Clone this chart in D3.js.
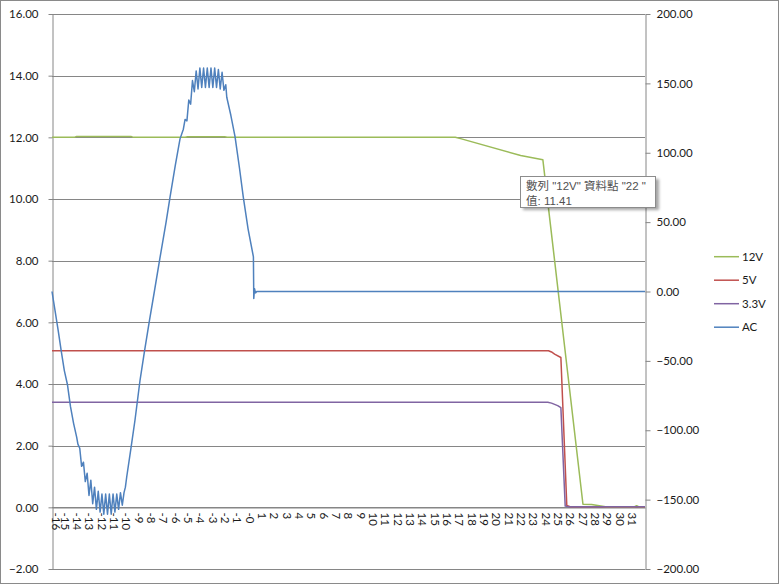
<!DOCTYPE html>
<html><head><meta charset="utf-8">
<script src="https://cdn.jsdelivr.net/npm/d3@7"></script>
<style>
body{margin:0;background:#fff}
svg text{font-family:Lato,"Liberation Sans",sans-serif;fill:#1a1a1a}
</style>
</head><body>
<svg id="c" width="780" height="585"></svg>
<script>
// ---- data ----
const xTicks = [-16,-15,-14,-13,-12,-11,-10,-9,-8,-7,-6,-5,-4,-3,-2,-1,-0,1,2,3,4,5,6,7,8,9,10,11,12,13,14,15,16,17,18,19,20,21,22,23,24,25,26,27,28,29,30,31];
const xTickLabels = ["-16","-15","-14","-13","-12","-11","-10","-9","-8","-7","-6","-5","-4","-3","-2","-1","-0","1","2","3","4","5","6","7","8","9","10","11","12","13","14","15","16","17","18","19","20","21","22","23","24","25","26","27","28","29","30","31"];
const leftTicks = [-2,0,2,4,6,8,10,12,14,16];
const rightTicks = [-200,-150,-100,-50,0,50,100,150,200];
const seriesNames = ["12V","5V","3.3V","AC"];
const seriesColors = ["#9BBB59","#C0504D","#8064A2","#4F81BD"];

const v12T = [-16,-14.2,-14.0,-9.6,-9.4,-5.2,-5.0,-2.0,-1.8,16.7,17.2,22,23.8,27.05,27.75,29.0,31.2,31.4,31.6,32.08];
const v12V = [12.0,12.0,12.03,12.03,12.0,12.0,12.02,12.02,12.0,12.0,11.95,11.41,11.27,0.1,0.09,0.01,0.01,0.05,0.01,0.01];

const v5T = [-16,24.25,24.5,24.75,25.26,25.74,26.0,32.08];
const v5V = [5.08,5.08,5.04,4.97,4.86,0.06,0.02,0.02];

const v33T = [-16,24.2,24.5,25.0,25.26,25.61,25.9,32.08];
const v33V = [3.41,3.41,3.38,3.3,3.23,0.04,0.02,0.02];

const acT = [-16,-15.75,-15.5,-15.25,-15,-14.75,-14.5,-14.25,-14,-13.9,
  -13.75,-13.6,-13.45,-13.3,-13.15,-13.0,-12.85,-12.7,-12.55,-12.4,-12.25,-12.1,-11.95,-11.8,-11.65,-11.5,-11.35,-11.2,-11.05,-10.9,-10.75,-10.6,-10.45,-10.3,-10.16,
  -10.05,-9.94,-9.6,-9.27,-8.86,-8.5,-8.1,-7.7,-7.25,-6.75,-6.43,-6.0,-5.62,-5.35,
  -5.21,-5.06,-4.91,-4.76,-4.61,-4.46,-4.31,-4.16,-4.01,-3.86,-3.71,-3.56,-3.41,-3.26,-3.11,-2.96,-2.81,-2.66,-2.51,-2.36,-2.21,-2.06,-1.91,
  -1.83,-1.5,-1.16,-0.8,-0.49,-0.1,0.33,0.36,0.42,0.5,0.6,32.08];
const acV = [0,-14,-28,-43,-57,-67,-83,-95,-105,-110,
  -113,-126,-123,-137,-131,-147,-136,-153,-141,-157,-144,-159,-146,-160.5,-146,-160.5,-146,-160.5,-146,-159,-146,-157,-145,-154,-145,
  -141,-133.5,-113,-92.6,-63.8,-43,-21,0,24,50,68,91,110,117,
  124,123,138,135,152,144,159,146,161,147,161,147,161,147,161,147,161,147,160,146,158,145,149,
  140,127,111.6,89,68,45,25,-5,2,-1,0,0];

const tipLines = ['數列 "12V" 資料點 "22 "', '值: 11.41'];

// ---- chart ----
const svg = d3.select("#c");
const gridColor = "#868686";
const x = d3.scaleLinear().domain([-16, 32.08]).range([52, 645]);
const yL = d3.scaleLinear().domain([-2, 16]).range([569, 14]);
const yR = d3.scaleLinear().domain([-200, 200]).range([569, 14]);

// outer border
svg.append("rect").attr("x",0.5).attr("y",0.5).attr("width",778).attr("height",583)
  .attr("fill","#fff").attr("stroke","#8a8a8a").attr("stroke-width",1);

// gridlines
svg.append("g").selectAll("line").data(leftTicks).join("line")
  .attr("x1",52).attr("x2",645)
  .attr("y1",d=>Math.round(yL(d))+0.5).attr("y2",d=>Math.round(yL(d))+0.5)
  .attr("stroke",gridColor).attr("stroke-width",1);

const fontSize = "11.5px";
// left axis
const gl = svg.append("g").attr("transform","translate(52.5,0)")
  .call(d3.axisLeft(yL).tickValues(leftTicks).tickFormat(d3.format(".2f")).tickSize(4).tickSizeOuter(0).tickPadding(10));
gl.select(".domain").attr("stroke",gridColor);
gl.selectAll(".tick line").attr("stroke",gridColor);
gl.selectAll(".tick text").style("font-size",fontSize).attr("font-family",null);

// right axis
const gr = svg.append("g").attr("transform","translate(645.5,0)")
  .call(d3.axisRight(yR).tickValues(rightTicks).tickFormat(d3.format(".2f")).tickSize(5).tickSizeOuter(0).tickPadding(6));
gr.select(".domain").attr("stroke",gridColor);
gr.selectAll(".tick line").attr("stroke",gridColor);
gr.selectAll(".tick text").style("font-size",fontSize).attr("font-family",null);

// x axis at 0
const gx = svg.append("g").attr("transform",`translate(0,${Math.round(yL(0))+0.5})`)
  .call(d3.axisBottom(x).tickValues(xTicks).tickFormat((d,i)=>xTickLabels[i]).tickSize(0).tickSizeOuter(0));
gx.select(".domain").attr("stroke",gridColor);
gx.selectAll(".tick text").style("font-size",fontSize).attr("font-family",null)
  .attr("y",0).attr("x",5).attr("dy","0.36em")
  .attr("transform",(d,i)=> i===0 ? "translate(3.5,0) rotate(90)" : "rotate(90)")
  .style("text-anchor","start");

// series
const zip = (a,b)=>a.map((t,i)=>[t,b[i]]);
const lineL = d3.line().x(d=>x(d[0])).y(d=>yL(d[1]));
const lineR = d3.line().x(d=>x(d[0])).y(d=>yR(d[1]));
const series = [
  {d:zip(v12T,v12V), gen:lineL},
  {d:zip(v5T,v5V), gen:lineL},
  {d:zip(v33T,v33V), gen:lineL},
  {d:zip(acT,acV), gen:lineR}
];
series.forEach((s,i)=>{
  svg.append("path").attr("d",s.gen(s.d)).attr("fill","none")
    .attr("stroke",seriesColors[i]).attr("stroke-width",1.5).attr("stroke-linejoin","round");
});

// legend
const lg = svg.append("g");
const legY = [256.7,280.2,303.7,327.2];
seriesNames.forEach((n,i)=>{
  lg.append("line").attr("x1",714).attr("x2",739).attr("y1",legY[i]).attr("y2",legY[i])
    .attr("stroke",seriesColors[i]).attr("stroke-width",1.5);
  lg.append("text").attr("x",742).attr("y",legY[i]).attr("dy","0.36em")
    .style("font-size",fontSize).text(n);
});

// tooltip
const defs = svg.append("defs");
const f = defs.append("filter").attr("id","sh").attr("x","-20%").attr("y","-30%").attr("width","140%").attr("height","180%");
f.append("feGaussianBlur").attr("stdDeviation",1.5);
const tg = svg.append("g");
tg.append("rect").attr("x",523).attr("y",179).attr("width",136).attr("height",31)
  .attr("fill","#000").attr("opacity",0.35).attr("filter","url(#sh)");
tg.append("rect").attr("x",520.5).attr("y",176.5).attr("width",135).attr("height",31)
  .attr("fill","#fff").attr("stroke","#8c8c8c");
tipLines.forEach((t,i)=>{
  tg.append("text").attr("x",526).attr("y",189.5+i*15)
    .style("font-family",'"Liberation Sans","Noto Sans CJK TC",sans-serif')
    .style("font-size","11.5px").style("fill","#505050").text(t);
});
</script>
</body></html>
